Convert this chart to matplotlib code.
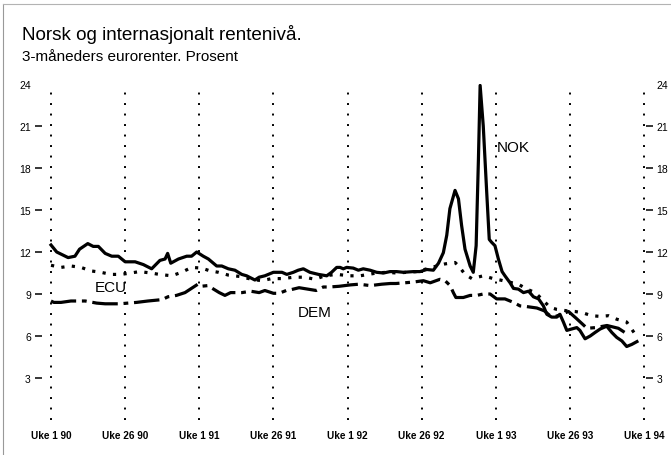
import matplotlib
matplotlib.use('Agg')
import matplotlib.pyplot as plt
from matplotlib.lines import Line2D

# uke-nummer fra uke 1 1990 (0) til uke 1 1994 (208), rente i prosent
nok_uke = [0, 2, 6, 8.4, 10, 12.9, 14.8, 16.6, 19, 21.3, 23.6, 26, 29.5, 32.4, 35.3,
           38.2, 40, 40.9, 42, 44.7, 47.6, 49.3, 51.1, 53.4, 55.2, 58.1, 59.9, 62.2,
           64.5, 66.9, 68.6, 71.5, 73, 75, 78, 81, 82.7, 85, 86.7, 88.5, 90.8, 93.8,
           96.7, 98.4, 100.2, 101.4, 102.5, 103.7, 106, 107.8, 109.5, 111.9, 114.2,
           116.6, 118.9, 121.2, 123.6, 127.1, 129.4, 131.8, 134.1, 135.9, 137.6,
           138.8, 139.9, 141.7, 142.9, 144, 145.2, 147, 148.1, 149.1, 149.9, 150.5,
           151.6, 152.8, 153.7, 154.5, 155.7, 156.9, 158.2, 159.2, 161, 162.2, 163.9,
           165.7, 167.5, 169.2, 171, 172.7, 173.9, 175.6, 177.4, 178.5, 179.7, 180.9,
           182.6, 184.4, 185.5, 187.3, 189.1, 190.8, 192.6, 194.9, 196.7, 198.4,
           200.2, 201.9, 203.7, 205.5]
nok_rente = [12.5, 12.0, 11.6, 11.7, 12.2, 12.6, 12.4, 12.4, 11.9, 11.7, 11.7, 11.3,
             11.3, 11.1, 10.8, 11.4, 11.5, 11.9, 11.2, 11.5, 11.7, 11.7, 12.0, 11.7,
             11.5, 11.0, 11.0, 10.8, 10.7, 10.4, 10.3, 10.0, 10.2, 10.3, 10.55, 10.55,
             10.4, 10.55, 10.7, 10.8, 10.55, 10.4, 10.3, 10.55, 10.9, 10.9, 10.8, 10.9,
             10.85, 10.7, 10.8, 10.7, 10.55, 10.5, 10.6, 10.6, 10.55, 10.6, 10.6,
             10.75, 10.7, 11.2, 11.95, 13.2, 15.1, 16.4, 15.8, 13.9, 12.2, 11.0, 10.55,
             12.45, 18.6, 23.9, 21.0, 16.3, 12.9, 12.7, 12.45, 11.5, 10.6, 10.3, 9.8,
             9.4, 9.35, 9.1, 9.2, 8.8, 8.65, 8.15, 7.55, 7.35, 7.35, 7.55, 7.0, 6.4,
             6.5, 6.6, 6.4, 5.8, 6.0, 6.25, 6.5, 6.7, 6.25, 5.9, 5.65, 5.25, 5.4, 5.6]

ecu_uke = [0, 3.5, 7, 10.5, 14, 17.5, 21, 24.5, 28, 31, 35, 38, 42.3, 45.8, 49.3,
           52.8, 55.8, 58.7, 62.2, 66.3, 70.4, 73.9, 77.4, 81.5, 85, 89, 92.6, 96,
           100.2, 104.8, 108.4, 114.2, 117.7, 121.2, 124.8, 128.3, 131.8, 135.3,
           138.2, 141.7, 143, 145.2, 147.6, 151.6, 155.1, 157.5, 163.9, 166.9, 169.8,
           172.1, 175, 177.4, 180.9, 183.8, 186.6, 189.6, 192.6, 195.5, 198.4, 201.9,
           204.8]
ecu_rente = [11.05, 10.9, 11.0, 10.9, 10.65, 10.55, 10.4, 10.4, 10.5, 10.6, 10.5, 10.4,
             10.3, 10.55, 10.9, 10.85, 10.65, 10.55, 10.35, 10.25, 10.05, 9.95, 10.1,
             10.1, 10.2, 10.2, 10.05, 10.3, 10.4, 10.3, 10.3, 10.5, 10.55, 10.5, 10.55,
             10.6, 10.8, 11.0, 11.15, 11.25, 11.0, 10.4, 10.1, 10.3, 10.1, 10.0, 9.7,
             9.35, 9.1, 8.65, 8.05, 7.9, 7.8, 7.75, 7.65, 7.45, 7.4, 7.45, 7.2, 7.0,
             6.15]

dem_uke = [0, 1, 3.5, 7, 12, 16, 19, 24, 27, 30, 34, 39, 41, 44, 47, 50, 51.5, 52.5,
           55, 57, 59, 61, 63, 67, 70, 73, 75, 78, 80, 82.5, 84, 87, 90, 93, 95.5,
           97.5, 101, 105, 108, 110, 112, 116, 119, 121, 127, 130.6, 133, 136.4, 138.2,
           140, 141.1, 142, 144.6, 147, 149.3, 151.6, 154, 156.3, 159.2, 162.2, 164.5,
           166.9, 170.4, 173, 175, 177, 179, 181.5, 184, 188, 191, 195, 199, 202]
dem_rente = [8.5, 8.4, 8.4, 8.5, 8.5, 8.35, 8.3, 8.3, 8.35, 8.4, 8.5, 8.6, 8.8, 8.9,
             9.1, 9.5, 9.7, 9.55, 9.6, 9.35, 9.1, 8.9, 9.1, 9.1, 9.2, 9.1, 9.25, 9.05,
             9.05, 9.25, 9.3, 9.45, 9.35, 9.25, 9.5, 9.5, 9.55, 9.65, 9.7, 9.65, 9.6,
             9.7, 9.75, 9.75, 9.85, 9.95, 9.8, 10.05, 9.95, 9.6, 9.1, 8.75, 8.75, 8.9,
             8.9, 9.0, 9.0, 8.65, 8.65, 8.4, 8.15, 8.1, 8.0, 7.8, 7.45, 7.4, 7.55, 7.75,
             7.3, 6.55, 6.6, 6.75, 6.55, 6.15]

x_ticks = [0, 26, 52, 78, 104, 130, 156, 182, 208]
x_labels = ['Uke 1 90', 'Uke 26 90', 'Uke 1 91', 'Uke 26 91', 'Uke 1 92',
            'Uke 26 92', 'Uke 1 93', 'Uke 26 93', 'Uke 1 94']
y_ticks = [3, 6, 9, 12, 15, 18, 21, 24]

plt.rcParams['font.family'] = ['Liberation Sans', 'DejaVu Sans']

fig = plt.figure(figsize=(6.71, 4.56), dpi=100)
# x: uke 0 -> px 51, uke 208 -> px 644 ; y: 0 -> px 421, 24 -> px 85
ax = fig.add_axes([42 / 671, 35 / 456, 603.5 / 671, 336 / 456])
ax.set_xlim(-3.16, 208.5)
ax.set_ylim(0, 24)
for s in ax.spines.values():
    s.set_visible(False)

ax.grid(axis='x', color='black', linestyle=(0, (1, 4.4)), linewidth=1.4)
ax.set_axisbelow(True)

ax.plot(nok_uke, nok_rente, color='black', lw=2.3, solid_joinstyle='round')
ax.plot(ecu_uke, ecu_rente, color='black', lw=2.3, dashes=(1, 2.3))
ax.plot(dem_uke, dem_rente, color='black', lw=2.3, dashes=(8, 1.8, 1.5, 1.8))

ax.text(15.4, 9.5, 'ECU', fontsize=11, va='center', ha='left')
ax.text(86.5, 7.7, 'DEM', fontsize=11, va='center', ha='left')
ax.text(156.4, 19.5, 'NOK', fontsize=11, va='center', ha='left')

ax.set_xticks(x_ticks, x_labels, fontweight='bold', fontsize=7.2)
ax.tick_params(axis='x', length=0, pad=7.5)
ax.set_yticks(y_ticks, [str(v) for v in y_ticks], fontsize=7.5)
ax.tick_params(axis='y', left=True, right=True, labelleft=True, labelright=True,
               length=5, width=1.1, direction='out', pad=3)
t24 = ax.yaxis.get_major_ticks()[-1]
t24.tick1line.set_visible(False)
t24.tick2line.set_visible(False)

fig.text(22 / 671, 1 - 40 / 456, 'Norsk og internasjonalt rentenivå.', fontsize=13.6,
         va='baseline')
fig.text(22 / 671, 1 - 61 / 456, '3-måneders eurorenter. Prosent', fontsize=11,
         va='baseline')

# ramme oppe og til venstre
fig.add_artist(Line2D([3 / 671, 3 / 671], [0, 1 - 5 / 456], color='0.6', lw=0.8,
                      transform=fig.transFigure))
fig.add_artist(Line2D([3 / 671, 1], [1 - 5 / 456, 1 - 5 / 456], color='0.7', lw=0.8,
                      transform=fig.transFigure))

fig.savefig('out.png', dpi=100)
